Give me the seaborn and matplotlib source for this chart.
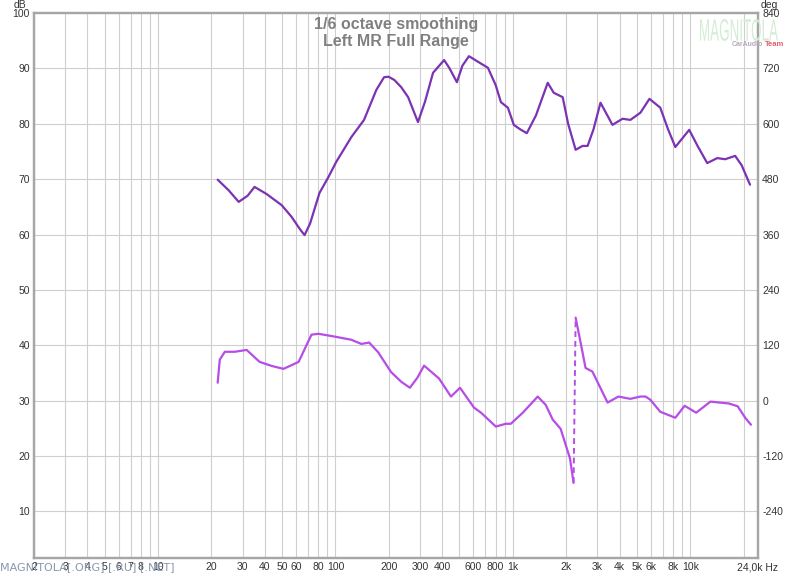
import numpy as np
import pandas as pd
import matplotlib
matplotlib.use("Agg")
import matplotlib.pyplot as plt
import seaborn as sns
from matplotlib.textpath import TextPath
from matplotlib.patches import PathPatch
from matplotlib.font_manager import FontProperties
from matplotlib.transforms import Affine2D

# Magnitude response (dB)
mag_freq = [21.7, 25, 28.5, 32, 35, 41, 49.8, 56.6, 63, 67, 72, 81.3, 91.4, 101,
            123, 145, 170, 188, 199, 215, 235, 257, 292, 320, 355, 410, 440, 484,
            520, 566, 636, 724, 800, 857, 938, 1013, 1100, 1199, 1350, 1573, 1700,
            1910, 2050, 2260, 2473, 2640, 2850, 3120, 3645, 4150, 4600, 5240, 5890,
            6780, 7500, 8240, 9870, 11000, 12470, 14200, 15740, 17920, 19500, 21730]
mag_db = [69.9, 68.0, 65.9, 67.0, 68.6, 67.3, 65.3, 63.2, 61.0, 59.9, 62.0, 67.5, 70.4, 73.1,
          77.6, 80.7, 86.1, 88.4, 88.5, 87.9, 86.6, 84.8, 80.3, 84.0, 89.2, 91.5, 90.0, 87.5,
          90.5, 92.2, 91.2, 90.1, 87.0, 83.9, 82.9, 79.8, 79.0, 78.3, 81.5, 87.4, 85.6,
          84.8, 80.0, 75.3, 76.0, 76.0, 79.0, 83.8, 79.8, 80.9, 80.7, 82.0, 84.5,
          82.9, 79.0, 75.8, 78.9, 76.0, 72.9, 73.8, 73.6, 74.2, 72.5, 69.0]

# Phase (deg), two pieces either side of the wrap near 2.2 kHz
ph1_freq = [21.7, 22.3, 23.8, 27.1, 31.6, 37.4, 44, 51, 62, 73.3, 80.2, 98.6, 123, 140,
            155, 175, 181, 206, 235, 263, 290, 316, 384, 448, 504, 604, 662, 802, 913,
            974, 1138, 1382, 1532, 1679, 1860, 2100, 2200]
ph1_deg = [39, 89, 106, 106, 110, 84, 75, 69, 84, 143, 145, 139, 132, 123,
           126, 104, 95, 62, 41, 28, 50, 76, 48, 9, 28, -15, -26, -56, -50,
           -50, -26, 9, -9, -41, -61, -125, -178]
ph2_freq = [2260, 2410, 2570, 2810, 3420, 3940, 4600, 5240, 5600, 5960, 6780, 8240,
            9300, 10800, 13000, 16500, 18500, 20500, 22000]
ph2_deg = [180, 126, 71, 63, -4, 9, 4, 9, 9, 2, -24, -37,
           -11, -26, -2, -6, -12, -38, -52]

x_ticks = [2, 3, 4, 5, 6, 7, 8, 10, 20, 30, 40, 50, 60, 80, 100, 200, 300, 400, 600,
           800, 1000, 2000, 3000, 4000, 5000, 6000, 8000, 10000, 24000]
x_labels = ["2", "3", "4", "5", "6", "7", "8", "10", "20", "30", "40", "50", "60", "80",
            "100", "200", "300", "400", "600", "800", "1k", "2k", "3k", "4k", "5k", "6k",
            "8k", "10k", "24,0k Hz"]
db_ticks = [10, 20, 30, 40, 50, 60, 70, 80, 90, 100]
deg_ticks = [-240, -120, 0, 120, 240, 360, 480, 600, 720, 840]

MAG_COLOR = "#7b33b3"
PH_COLOR = "#b54de6"
GRID = "#cfcfcf"
FRAME = "#a6a6a6"

sns.set_style("white")
plt.rcParams['font.family'] = ['Liberation Sans', 'DejaVu Sans']
plt.rcParams['axes.unicode_minus'] = False

fig = plt.figure(figsize=(8, 5.76), dpi=100)
ax = fig.add_axes([0.0425, 0.03125, 0.905, 0.9462])
ax2 = ax.twinx()

ax.set_xscale("log")
ax.set_xlim(2.06, 24100)
ax.set_ylim(1.6, 100)
ax2.set_ylim((1.6 - 30) * 12, (100 - 30) * 12)

# grid: every 1..9 multiple per decade
vlines = [m * 10 ** d for d in range(0, 5) for m in range(1, 10)]
vlines = [v for v in vlines if 2 <= v <= 23000]
for v in vlines:
    ax.axvline(v, color=GRID, lw=0.8, zorder=0)
for h in db_ticks[:-1]:
    ax.axhline(h, color=GRID, lw=0.8, zorder=0)

mag = pd.DataFrame({"f": mag_freq, "db": mag_db})
ph1 = pd.DataFrame({"f": ph1_freq, "deg": ph1_deg})
ph2 = pd.DataFrame({"f": ph2_freq, "deg": ph2_deg})

sns.lineplot(data=mag, x="f", y="db", ax=ax, color=MAG_COLOR, lw=1.6, sort=False)
sns.lineplot(data=ph1, x="f", y="deg", ax=ax2, color=PH_COLOR, lw=1.6, sort=False)
sns.lineplot(data=ph2, x="f", y="deg", ax=ax2, color=PH_COLOR, lw=1.6, sort=False)
# dashed jump at the phase wrap
ax2.plot([ph1_freq[-1], ph2_freq[0]], [ph1_deg[-1], ph2_deg[0]], color=PH_COLOR,
         lw=1.4, ls=(0, (3, 2)))

ax.set_xticks(x_ticks)
ax.set_xticklabels(x_labels)
ax.xaxis.set_minor_locator(matplotlib.ticker.NullLocator())
ax.set_yticks(db_ticks)
ax2.set_yticks(deg_ticks)
ax.set_xlabel("")
ax.set_ylabel("")
ax2.set_ylabel("")
for a in (ax, ax2):
    a.tick_params(length=0, labelsize=7.5, labelcolor="#333333", pad=3)
    for s in a.spines.values():
        s.set_color(FRAME)
        s.set_linewidth(1.6)

fig.text(0.025, 1.0, "dB", fontsize=7.5, color="#333333", ha="center", va="top")
fig.text(0.962, 1.0, "deg", fontsize=7.5, color="#333333", ha="center", va="top")

ax.text(0.5, 0.993, "1/6 octave smoothing\nLeft MR Full Range", transform=ax.transAxes,
        ha="center", va="top", fontsize=11.5, fontweight="bold", color="#808080",
        linespacing=1.15)

# logo watermark, condensed letters drawn as a scaled text path (pixel coords)
tp = TextPath((0, 0), "MAGNITOLA", size=10, prop=FontProperties(family="Liberation Sans"))
ext = tp.get_extents()
sx = 78 / ext.width
sy = 22 / ext.height
logo_tf = Affine2D().translate(-ext.x0, -ext.y0).scale(sx, sy).translate(700, 576 - 41)
fig.patches.append(PathPatch(tp, transform=logo_tf, facecolor="#d4ecd4",
                             edgecolor="none", figure=fig))
fig.text(763 / 800, 1 - 45 / 576, "CarAudio", ha="right", va="center", fontsize=5,
         color="#b3a9bb", fontweight="bold")
fig.text(765 / 800, 1 - 45 / 576, "Team", ha="left", va="center", fontsize=5.5,
         color="#e06070", fontweight="bold")

fig.text(0.0, 0.015, "MAGNITOLA[.ORG] [.RU] [.NET]", fontsize=8, color="#8797b0",
         ha="left", va="center", family=["DejaVu Sans"])

fig.savefig("out.png", dpi=100, facecolor="white")
